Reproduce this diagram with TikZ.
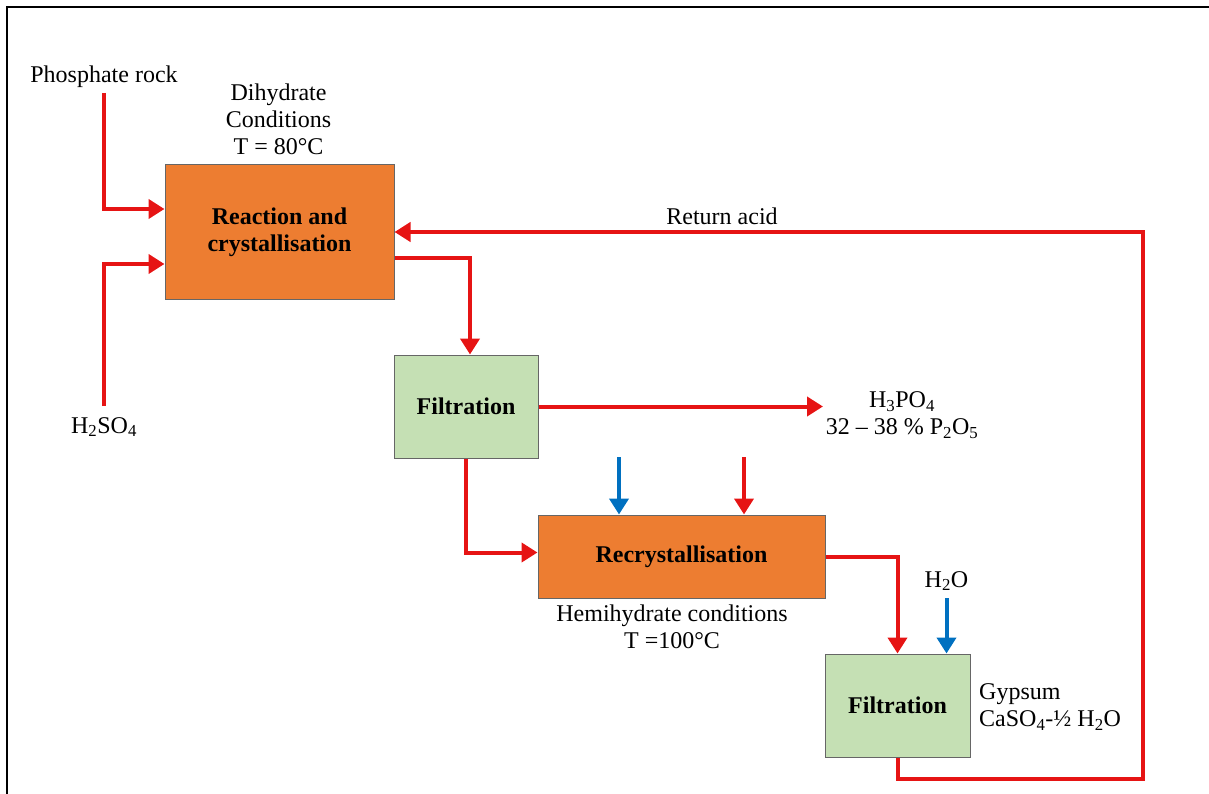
\documentclass[tikz,border=0pt]{standalone}
\usepackage{fontspec}
\setmainfont{Liberation Serif}
\usetikzlibrary{arrows.meta}
\definecolor{procorange}{RGB}{237,125,49}
\definecolor{procgreen}{RGB}{197,224,180}
\definecolor{flowred}{RGB}{230,20,20}
\definecolor{flowblue}{RGB}{0,112,192}
\begin{document}
\begin{tikzpicture}[x=1pt,y=-1pt,
  every node/.style={inner sep=0pt,font=\fontsize{24}{27}\selectfont},
  unit/.style={draw=black!60,line width=1pt,font=\fontsize{24}{27}\selectfont\bfseries,align=center},
  reactor/.style={unit,fill=procorange},
  filter/.style={unit,fill=procgreen},
  label/.style={align=center},
  flow/.style={draw=flowred,line width=4pt,-{Triangle[width=19pt,length=16pt]}},
  water/.style={draw=flowblue,line width=4pt,-{Triangle[width=19pt,length=16pt]}}]
  \useasboundingbox (0,0) rectangle (1209,794);
  % outer frame (left and top edges)
  \draw[line width=2.5pt] (7,794) -- (7,7) -- (1209,7);

  % process units
  \node[reactor,minimum width=229pt,minimum height=134pt] (reac) at (279.5,232) {Reaction and\\crystallisation};
  \node[filter,minimum width=144pt,minimum height=103pt] (filt1) at (466,406.5) {Filtration};
  \node[reactor,minimum width=287pt,minimum height=83pt] (recr) at (681.5,556.5) {Recrystallisation};
  \node[filter,minimum width=145pt,minimum height=103pt] (filt2) at (897.5,705.5) {Filtration};

  % text labels
  \node (rock) at (104,77) {Phosphate rock};
  \node[label] (dihyd) at (278.5,119) {Dihydrate\\Conditions\\T = 80°C};
  \node (acid) at (104,427) {H\textsubscript{2}SO\textsubscript{4}};
  \node (ret) at (722,216) {Return acid};
  \node[label] (prod) at (902,415) {H\textsubscript{3}PO\textsubscript{4}\\32 – 38 \% P\textsubscript{2}O\textsubscript{5}};
  \node[label] (hemi) at (672,627) {Hemihydrate conditions\\T =100°C};
  \node (water) at (946.5,581) {H\textsubscript{2}O};
  \node[align=left,anchor=west] (gyps) at (979,707) {Gypsum\\CaSO\textsubscript{4}-½ H\textsubscript{2}O};

  % free ends of the feed lines
  \coordinate (rockstart) at (104,93);
  \coordinate (acidstart) at (104,406);
  \coordinate (prodend) at (823,406.5);
  \coordinate (bluein) at (619,457);
  \coordinate (redin) at (744,457);
  \coordinate (waterin) at (946.5,598);
  \coordinate (retcorner) at (1143,232);

  % feeds to the reactor
  \draw[flow] (rockstart) |- ([yshift=23pt]reac.west);
  \draw[flow] (acidstart) |- ([yshift=-32pt]reac.west);
  % reactor to first filter
  \draw[flow] ([yshift=-26pt]reac.east) -| ([xshift=4pt]filt1.north);
  % product acid
  \draw[flow] (filt1.east) -- (prodend);
  % filter cake to recrystallisation
  \draw[flow] (filt1.south) |- ([yshift=4pt]recr.west);
  \draw[water] (bluein) -- (bluein |- recr.north);
  \draw[flow] (redin) -- (redin |- recr.north);
  % recrystallisation to second filter
  \draw[flow] (recr.east) -| (filt2.north);
  \draw[water] (waterin) -- (waterin |- filt2.north);
  % return acid loop
  \draw[flow] (filt2.south) -- ++(0,21) -| (retcorner) -- (reac.east);
\end{tikzpicture}
\end{document}
